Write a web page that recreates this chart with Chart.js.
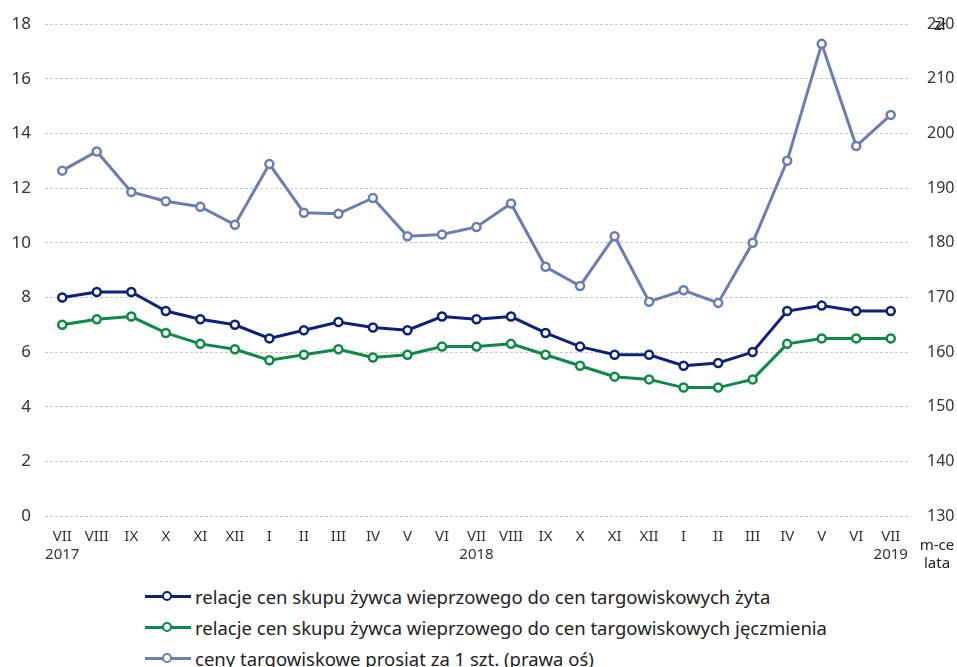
<!DOCTYPE html>
<html>
<head>
<meta charset="utf-8">
<script src="https://cdn.jsdelivr.net/npm/chart.js@4.4.0/dist/chart.umd.min.js"></script>
<style>
  body { margin: 0; background: #fff; font-family: "Noto Sans", sans-serif; }
  #wrap { position: relative; width: 957px; height: 667px; }
  #chart { position: absolute; left: 0; top: 0; }
  #legend { position: absolute; left: 145px; top: 581px; }
  .item { display: flex; align-items: center; height: 31px; font-size: 18.5px; color: #222; }
  .mark { position: relative; width: 46px; height: 3px; margin-right: 4px; }
  .mark span { position: absolute; left: 17px; top: -4px; width: 6px; height: 6px; border-radius: 50%; background: #fff; border: 2.5px solid; }
</style>
</head>
<body>
<div id="wrap">
  <canvas id="chart" width="957" height="575"></canvas>
  <div id="legend"></div>
</div>
<script>
const months = ["VII","VIII","IX","X","XI","XII","I","II","III","IV","V","VI","VII","VIII","IX","X","XI","XII","I","II","III","IV","V","VI","VII"];
const years = {0: "2017", 12: "2018", 24: "2019"};

const rye = [8.0, 8.2, 8.2, 7.5, 7.2, 7.0, 6.5, 6.8, 7.1, 6.9, 6.8, 7.3, 7.2, 7.3, 6.7, 6.2, 5.9, 5.9, 5.5, 5.6, 6.0, 7.5, 7.7, 7.5, 7.5];
const barley = [7.0, 7.2, 7.3, 6.7, 6.3, 6.1, 5.7, 5.9, 6.1, 5.8, 5.9, 6.2, 6.2, 6.3, 5.9, 5.5, 5.1, 5.0, 4.7, 4.7, 5.0, 6.3, 6.5, 6.5, 6.5];
const piglets = [193.2, 196.7, 189.3, 187.6, 186.6, 183.3, 194.4, 185.5, 185.3, 188.2, 181.2, 181.5, 182.9, 187.2, 175.6, 172.1, 181.2, 169.2, 171.3, 169.0, 180.0, 195.0, 216.4, 197.7, 203.4];

const names = [
  "relacje cen skupu żywca wieprzowego do cen targowiskowych żyta",
  "relacje cen skupu żywca wieprzowego do cen targowiskowych jęczmienia",
  "ceny targowiskowe prosiąt za 1 szt. (prawa oś)"
];
const colors = ["#0b2278", "#0a8a45", "#6c7db5"];

const labels = months.map((m, i) => years[i] ? [m, years[i]] : m);

function ds(label, data, color, axis) {
  return {
    label, data, yAxisID: axis,
    borderColor: color, backgroundColor: "#fff",
    borderWidth: 3, pointRadius: 4, pointBorderWidth: 2.5,
    pointBackgroundColor: "#fff", pointBorderColor: color, tension: 0
  };
}

const fam = "'Noto Sans', sans-serif";

const extraText = {
  id: "extraText",
  afterDraw(chart) {
    const ctx = chart.ctx;
    ctx.save();
    ctx.fillStyle = "#222";
    ctx.font = "16px " + fam;
    ctx.textAlign = "left";
    ctx.fillText("zł", 934, 30);
    ctx.font = "15px " + fam;
    ctx.textAlign = "center";
    ctx.fillText("m-ce", 937, 550);
    ctx.fillText("lata", 937, 568);
    ctx.restore();
  }
};

new Chart(document.getElementById("chart"), {
  type: "line",
  data: {
    labels,
    datasets: [
      ds(names[2], piglets, colors[2], "y1"),
      ds(names[0], rye, colors[0], "y"),
      ds(names[1], barley, colors[1], "y")
    ]
  },
  options: {
    responsive: false,
    animation: false,
    layout: { padding: { top: 12, bottom: 0, left: 0, right: 0 } },
    plugins: { legend: { display: false }, tooltip: { enabled: false } },
    scales: {
      x: {
        offset: true,
        grid: { display: false },
        border: { display: false },
        ticks: { color: "#333", font: { family: fam, size: 15 }, maxRotation: 0, autoSkip: false, padding: 4 },
        afterFit(s) { s.height = 59; }
      },
      y: {
        position: "left", min: 0, max: 18,
        ticks: { stepSize: 2, color: "#333", font: { family: fam, size: 17 }, padding: 14 },
        grid: { color: "#c8c8c8", drawTicks: false, lineWidth: 1 },
        border: { display: false, dash: [3, 2] },
        afterFit(s) { s.width = 45; }
      },
      y1: {
        position: "right", min: 130, max: 220,
        ticks: { stepSize: 10, color: "#333", font: { family: fam, size: 16 }, padding: 11 },
        grid: { display: false },
        border: { display: false },
        afterFit(s) { s.width = 49; }
      }
    }
  },
  plugins: [extraText]
});

const legend = document.getElementById("legend");
[0, 1, 2].forEach(i => {
  const row = document.createElement("div");
  row.className = "item";
  row.innerHTML = '<div class="mark" style="background:' + colors[i] + '"><span style="border-color:' + colors[i] + '"></span></div>' + names[i];
  legend.appendChild(row);
});
</script>
</body>
</html>
